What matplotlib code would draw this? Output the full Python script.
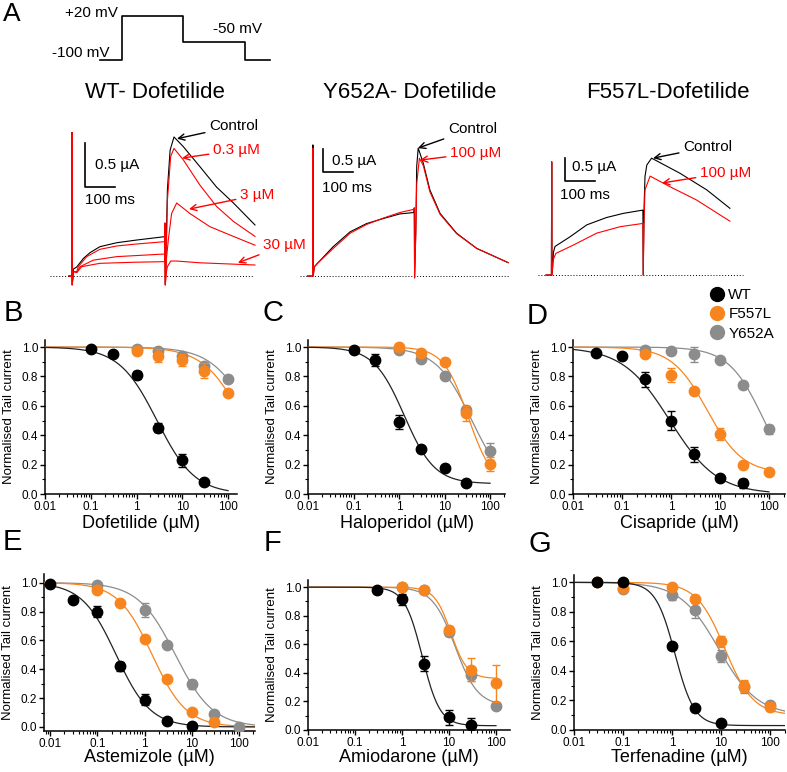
import numpy as np
import matplotlib
matplotlib.use('Agg')
import matplotlib.pyplot as plt
from matplotlib.lines import Line2D
from matplotlib.ticker import LogLocator, MultipleLocator, NullFormatter

plt.rcParams['font.family'] = ['Liberation Sans', 'DejaVu Sans']

nan = np.nan

# ---- protocol (ms, mV)
prot_t = [0, 73, 73, 277, 277, 483, 483, 567]
prot_v = [-100, -100, 20, 20, -50, -50, -100, -100]

# ---- panel A traces (time in ms, current in uA)
wt_ctrl_t = [30, 39, 40, 40.5, 45, 55, 61, 78, 100, 133, 189, 256, 349, 350, 351, 355, 358, 367, 380, 411, 467, 522, 578, 650]
wt_ctrl_i = [0, 0, 1.63, -0.1, 0.08, 0.1, 0.125, 0.20, 0.265, 0.333, 0.378, 0.409, 0.447, 0.6, -0.1, 0.5, 0.98, 1.43, 1.58, 1.47, 1.24, 1.01, 0.83, 0.58]
wt_03_t = [30, 39, 40, 40.5, 45, 56, 61, 89, 133, 189, 256, 349, 350, 351, 355, 358, 369, 380, 411, 467, 522, 578, 650]
wt_03_i = [0, 0, 1.63, -0.1, 0.05, 0.05, 0.106, 0.22, 0.303, 0.341, 0.364, 0.39, 0.6, -0.1, 0.4, 0.86, 1.36, 1.45, 1.32, 1.03, 0.79, 0.62, 0.45]
wt_3_t = [30, 39, 40, 40.5, 45, 56, 67, 111, 189, 349, 350, 351, 355, 361, 372, 389, 433, 500, 578, 650]
wt_3_i = [0, 0, 1.63, -0.1, 0.05, 0.04, 0.106, 0.18, 0.22, 0.25, 0.6, -0.1, 0.2, 0.41, 0.71, 0.83, 0.71, 0.56, 0.45, 0.35]
wt_30_t = [30, 39, 40, 40.5, 45, 56, 72, 133, 244, 349, 350, 351, 355, 358, 369, 389, 467, 650]
wt_30_i = [0, 0, 1.63, -0.1, 0.05, 0.04, 0.106, 0.144, 0.156, 0.163, 0.6, -0.1, 0.05, 0.106, 0.17, 0.17, 0.15, 0.125]

y6_ctrl_t = [25, 42, 43, 44, 48, 56, 111, 167, 222, 278, 333, 380, 381, 382, 386, 389, 394, 411, 433, 467, 522, 589, 694]
y6_ctrl_i = [0, 0, 2.85, 0.0, 0.2, 0.26, 0.64, 0.96, 1.14, 1.25, 1.35, 1.38, 1.48, -0.04, 1.0, 2.38, 2.78, 2.45, 1.87, 1.36, 0.93, 0.60, 0.29]
y6_100_t = [25, 42, 43, 44, 48, 56, 111, 167, 222, 278, 333, 380, 381, 382, 386, 389, 398, 411, 433, 467, 522, 589, 694]
y6_100_i = [0, 0, 2.78, 0.0, 0.2, 0.26, 0.60, 0.93, 1.12, 1.26, 1.38, 1.45, 1.48, -0.04, 0.9, 2.0, 2.56, 2.40, 1.83, 1.34, 0.92, 0.60, 0.29]

f5_ctrl_t = [20, 38, 39, 40, 45, 50, 100, 156, 222, 278, 342, 343, 344, 347, 350, 356, 372, 467, 556, 633]
f5_ctrl_i = [0, 0, 2.46, 0.0, 0.5, 0.62, 0.83, 1.09, 1.25, 1.34, 1.41, 1.41, 0.0, 1.5, 2.14, 2.39, 2.54, 2.21, 1.85, 1.45]
f5_100_t = [20, 38, 39, 40, 45, 53, 111, 189, 267, 342, 343, 344, 347, 350, 367, 433, 522, 633]
f5_100_i = [0, 0, 2.46, 0.0, 0.35, 0.47, 0.65, 0.91, 1.05, 1.12, 1.12, 0.0, 1.2, 1.85, 2.15, 1.92, 1.63, 1.17]

# ---- concentration-response data (uM, normalised tail current)
drugs = ['Dofetilide', 'Haloperidol', 'Cisapride', 'Astemizole', 'Amiodarone', 'Terfenadine']
letters = ['B', 'C', 'D', 'E', 'F', 'G']
variants = ['WT', 'F557L', 'Y652A']

dof_conc = [0.1, 0.3, 1, 3, 10, 30, 100]
dof_y = {'WT': [0.99, 0.95, 0.81, 0.45, 0.23, 0.085, nan],
         'F557L': [nan, nan, 0.97, 0.94, 0.91, 0.84, 0.69],
         'Y652A': [nan, nan, 0.99, 0.97, 0.94, 0.87, 0.78]}
dof_e = {'WT': [0.01, 0.01, 0.03, 0.03, 0.045, 0.01, nan],
         'F557L': [nan, nan, 0.01, 0.045, 0.04, 0.05, 0.02],
         'Y652A': [nan, nan, 0.01, 0.01, 0.01, 0.02, 0.01]}
dof_fit = {'WT': (2.8, 1.05, 0), 'F557L': (220, 1.0, 0), 'Y652A': (350, 1.0, 0)}

hal_conc = [0.1, 0.3, 1, 3, 10, 30, 100]
hal_y = {'WT': [0.98, 0.91, 0.49, 0.305, 0.18, 0.073, nan],
         'F557L': [nan, nan, 1.0, 0.96, 0.895, 0.55, 0.205],
         'Y652A': [nan, nan, 0.98, 0.92, 0.80, 0.57, 0.29]}
hal_e = {'WT': [0.01, 0.04, 0.05, 0.02, 0.02, 0.01, nan],
         'F557L': [nan, nan, 0.01, 0.02, 0.01, 0.05, 0.05],
         'Y652A': [nan, nan, 0.01, 0.01, 0.01, 0.03, 0.06]}
hal_fit = {'WT': (1.3, 1.3, 0.07), 'F557L': (33, 1.6, 0.05), 'Y652A': (40, 1.1, 0)}

cis_conc = [0.03, 0.1, 0.3, 1, 3, 10, 30, 100]
cis_y = {'WT': [0.96, 0.936, 0.78, 0.50, 0.27, 0.107, 0.073, nan],
         'F557L': [nan, nan, 0.95, 0.81, 0.70, 0.41, 0.20, 0.15],
         'Y652A': [nan, nan, 0.98, 0.97, 0.95, 0.91, 0.74, 0.44]}
cis_e = {'WT': [0.01, 0.02, 0.05, 0.065, 0.05, 0.02, 0.03, nan],
         'F557L': [nan, nan, 0.01, 0.05, 0.02, 0.04, 0.01, 0.01],
         'Y652A': [nan, nan, 0.01, 0.01, 0.05, 0.015, 0.01, 0.03]}
cis_fit = {'WT': (0.95, 0.9, 0), 'F557L': (5.5, 1.2, 0.14), 'Y652A': (80, 1.2, 0)}

ast_conc = [0.01, 0.03, 0.1, 0.3, 1, 3, 10, 30, 100]
ast_y = {'WT': [0.99, 0.877, 0.80, 0.42, 0.19, 0.042, 0.005, nan, nan],
         'F557L': [nan, nan, 0.95, 0.86, 0.61, 0.33, 0.105, 0.035, nan],
         'Y652A': [nan, nan, 0.985, nan, 0.81, 0.57, 0.295, 0.093, 0.0]}
ast_e = {'WT': [0.01, 0.02, 0.04, 0.03, 0.04, 0.01, 0.01, nan, nan],
         'F557L': [nan, nan, 0.01, 0.01, 0.01, 0.01, 0.01, 0.01, nan],
         'Y652A': [nan, nan, 0.01, nan, 0.05, 0.01, 0.03, 0.01, 0.01]}
ast_fit = {'WT': (0.25, 1.2, 0), 'F557L': (1.45, 1.2, 0), 'Y652A': (4.5, 1.1, 0)}

ami_conc = [0.3, 1, 3, 10, 30, 100]
ami_y = {'WT': [0.977, 0.914, 0.465, 0.088, 0.035, nan],
         'F557L': [nan, 1.0, 0.977, 0.70, 0.423, 0.326],
         'Y652A': [nan, 1.0, 0.98, 0.686, 0.384, 0.167]}
ami_e = {'WT': [0.01, 0.04, 0.05, 0.05, 0.05, nan],
         'F557L': [nan, 0.02, 0.01, 0.03, 0.08, 0.13],
         'Y652A': [nan, 0.01, 0.01, 0.02, 0.04, 0.02]}
ami_fit = {'WT': (2.7, 2.3, 0.03), 'F557L': (11, 2.5, 0.36), 'Y652A': (13.5, 1.8, 0.17)}

ter_conc = [0.03, 0.1, 1, 3, 10, 30, 100]
ter_y = {'WT': [1.0, 1.0, 0.57, 0.15, 0.045, nan, nan],
         'F557L': [1.0, 0.96, 0.97, 0.887, 0.60, 0.30, 0.158],
         'Y652A': [nan, 0.955, 0.914, 0.81, 0.50, 0.29, 0.17]}
ter_e = {'WT': [0.02, 0.01, 0.02, 0.01, 0.01, nan, nan],
         'F557L': [0.01, 0.01, 0.01, 0.01, 0.04, 0.04, 0.03],
         'Y652A': [nan, 0.02, 0.03, 0.05, 0.04, 0.04, 0.02]}
ter_fit = {'WT': (1.15, 2.2, 0.03), 'F557L': (12, 1.5, 0.1), 'Y652A': (9, 1.1, 0.1)}

colors = {'WT': 'black', 'F557L': '#F7851F', 'Y652A': '#8C8C8C'}
line_colors = {'WT': '#222222', 'F557L': '#F7851F', 'Y652A': '#8C8C8C'}


W, H = 787, 772
fig = plt.figure(figsize=(W / 100, H / 100), dpi=100)


def box(l, t, r, b):
    return fig.add_axes([l / W, 1 - b / H, (r - l) / W, (b - t) / H])


def ftext(x, y, s, **kw):
    fig.text(x / W, 1 - y / H, s, **kw)


def hill(x, ic50, n, bottom):
    return bottom + (1 - bottom) / (1 + (x / ic50) ** n)


# ---------------- panel A ----------------
ftext(3, 14, 'A', fontsize=19, va='center')

ax_p = box(95, 5, 280, 70)
ax_p.set_xlim(-16.7, 600)
ax_p.set_ylim(-127, 50)
ax_p.axis('off')
ax_p.plot(prot_t, prot_v, color='black', lw=1.2)
ax_p.text(60, 28, '+20 mV', ha='right', va='center', fontsize=11)
ax_p.text(33, -80, '-100 mV', ha='right', va='center', fontsize=11)
ax_p.text(457, -15, '-50 mV', ha='center', va='center', fontsize=11)


def trace_axes(l, t, r, b, x0, y0, sx, sy):
    ax = box(l, t, r, b)
    ax.set_xlim((l - x0) / sx, (r - x0) / sx)
    ax.set_ylim((y0 - b) / sy, (y0 - t) / sy)
    ax.axis('off')
    return ax


def scale_bar(ax, t0, i0, tlab, ilab):
    ax.plot([t0, t0, t0 + 100], [i0 + 0.5, i0, i0], color='black', lw=1.2)
    ax.text(tlab[0], tlab[1], '0.5 µA', fontsize=11, va='center', ha='left')
    ax.text(ilab[0], ilab[1], '100 ms', fontsize=11, va='center', ha='left')


def note(ax, s, tip, pos, c):
    ax.annotate(s, xy=tip, xytext=pos, fontsize=11, color=c, ha='left', va='center',
                arrowprops=dict(arrowstyle='->', color=c, lw=1.0, shrinkA=1, shrinkB=0))


tw = 0.8
# WT
ax_wt = trace_axes(50, 110, 300, 295, 60, 276, 0.3, 88)
ax_wt.plot([-33, 643], [0, 0], color='black', lw=0.7, ls=(0, (1, 2)))
ax_wt.plot(wt_ctrl_t, wt_ctrl_i, color='black', lw=tw)
for tt, ii in [(wt_03_t, wt_03_i), (wt_3_t, wt_3_i), (wt_30_t, wt_30_i)]:
    ax_wt.plot(tt, ii, color='red', lw=tw)
scale_bar(ax_wt, 83, 1.01, (117, 1.26), (83, 0.86))
note(ax_wt, 'Control', (390, 1.56), (497, 1.70), 'black')
note(ax_wt, '0.3 µM', (407, 1.34), (510, 1.43), 'red')
note(ax_wt, '3 µM', (430, 0.76), (600, 0.92), 'red')
note(ax_wt, '30 µM', (593, 0.15), (677, 0.35), 'red')
ftext(155, 92, 'WT- Dofetilide', fontsize=16, ha='center', va='center')

# Y652A
ax_y6 = trace_axes(295, 110, 530, 295, 300, 276, 0.3, 46)
ax_y6.plot([0, 700], [0, 0], color='black', lw=0.7, ls=(0, (1, 2)))
ax_y6.plot(y6_ctrl_t, y6_ctrl_i, color='black', lw=tw)
ax_y6.plot(y6_100_t, y6_100_i, color='red', lw=tw)
scale_bar(ax_y6, 77, 2.26, (107, 2.5), (73, 1.91))
note(ax_y6, 'Control', (393, 2.78), (493, 3.20), 'black')
note(ax_y6, '100 µM', (400, 2.52), (500, 2.67), 'red')
ftext(410, 92, 'Y652A- Dofetilide', fontsize=16, ha='center', va='center')

# F557L
ax_f5 = trace_axes(530, 110, 787, 295, 540, 275, 0.3, 46)
ax_f5.plot([-7, 677], [0, 0], color='black', lw=0.7, ls=(0, (1, 2)))
ax_f5.plot(f5_ctrl_t, f5_ctrl_i, color='black', lw=tw)
ax_f5.plot(f5_100_t, f5_100_i, color='red', lw=tw)
scale_bar(ax_f5, 83, 2.04, (107, 2.35), (67, 1.74))
note(ax_f5, 'Control', (377, 2.54), (477, 2.78), 'black')
note(ax_f5, '100 µM', (407, 2.0), (533, 2.22), 'red')
ftext(668, 92, 'F557L-Dofetilide', fontsize=16, ha='center', va='center')

# ---------------- panels B-G ----------------
panels = [
    (dof_conc, dof_y, dof_e, dof_fit, (45, 339.7, 237, 494), (0.01, 157), (0, 1.05), 100),
    (hal_conc, hal_y, hal_e, hal_fit, (308, 339.7, 505, 494), (0.01, 213), (0, 1.05), 100),
    (cis_conc, cis_y, cis_e, cis_fit, (573, 339.7, 785, 494), (0.01, 213), (0, 1.05), 100),
    (ast_conc, ast_y, ast_e, ast_fit, (44, 574, 255, 731), (0.0074, 219), (-0.028, 1.06), 219),
    (ami_conc, ami_y, ami_e, ami_fit, (308, 580, 510, 730), (0.01, 199), (0, 1.05), 100),
    (ter_conc, ter_y, ter_e, ter_fit, (574, 575, 785, 730), (0.01, 202), (0, 1.05), 202),
]
letter_pos = [(4, 313), (263, 313), (527, 316), (3, 542), (264, 543), (529, 544)]

for k, (conc, ys, es, fits, bb, xl, yl, xend) in enumerate(panels):
    l, t, r, b = bb
    ax = box(l, t, r, b)
    ax.set_xscale('log')
    ax.set_xlim(*xl)
    ax.set_ylim(*yl)
    conc = np.array(conc, dtype=float)
    xs = np.logspace(np.log10(xl[0]), np.log10(xend), 300)
    for z, v in enumerate(['Y652A', 'F557L', 'WT']):
        ax.plot(xs, hill(xs, *fits[v]), color=line_colors[v], lw=0.9, zorder=2 + z)
    for z, v in enumerate(['Y652A', 'F557L', 'WT']):
        y = np.array(ys[v], dtype=float)
        e = np.array(es[v], dtype=float)
        m = ~np.isnan(y)
        ax.errorbar(conc[m], y[m], yerr=e[m], fmt='o', color=colors[v], ms=7.5,
                    mec=colors[v], elinewidth=1.0, capsize=3, capthick=1.0, zorder=5 + z)
    for s in ['top', 'right']:
        ax.spines[s].set_visible(False)
    for s in ['left', 'bottom']:
        ax.spines[s].set_linewidth(1.1)
    ax.set_xticks([0.01, 0.1, 1, 10, 100])
    ax.set_xticklabels(['0.01', '0.1', '1', '10', '100'])
    ax.xaxis.set_minor_locator(LogLocator(base=10, subs=np.arange(2, 10), numticks=20))
    ax.xaxis.set_minor_formatter(NullFormatter())
    ax.set_yticks([0, 0.2, 0.4, 0.6, 0.8, 1.0])
    ax.set_yticklabels(['0.0', '0.2', '0.4', '0.6', '0.8', '1.0'])
    ax.yaxis.set_minor_locator(MultipleLocator(0.1))
    ax.tick_params(which='major', length=3.5, width=1, labelsize=8.5, pad=1.5)
    ax.tick_params(which='minor', length=2, width=0.8)
    wpx, hpx = r - l, b - t
    ax.set_ylabel('Normalised Tail current', fontsize=9.5)
    ax.yaxis.set_label_coords(-30 / wpx, 0.5)
    ax.set_xlabel(drugs[k] + ' (µM)', fontsize=13, va='center')
    ax.xaxis.set_label_coords(0.5, -(29 if k < 3 else 27) / hpx)
    ftext(letter_pos[k][0], letter_pos[k][1], letters[k], fontsize=21, va='center')

handles = [Line2D([], [], ls='none', marker='o', ms=10, color=colors[v]) for v in variants]
fig.legend(handles, variants, loc='upper left', bbox_to_anchor=(710 / W, 1 - 288 / H),
           frameon=False, fontsize=11, handlelength=0.9, handletextpad=0.3,
           labelspacing=0.35, borderpad=0, borderaxespad=0)

fig.savefig('out.png', dpi=100)
